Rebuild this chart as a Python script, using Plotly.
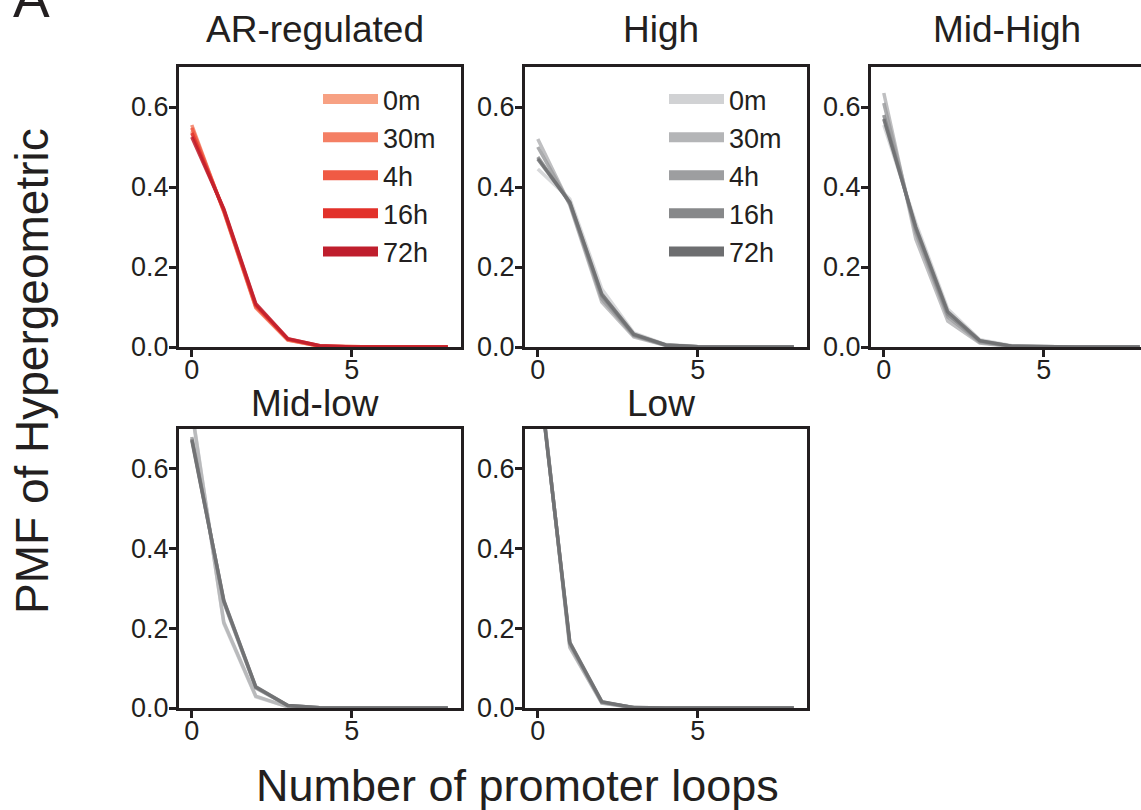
import plotly.graph_objects as go

# ---------------- data ----------------
loops = [0, 1, 2, 3, 4, 5, 6, 7, 8]
timepoints = ["0m", "30m", "4h", "16h", "72h"]
panel_titles = ["AR-regulated", "High", "Mid-High", "Mid-low", "Low"]
x_ticks = [0, 5]
y_ticks = [0.0, 0.2, 0.4, 0.6]

# PMF values per time point (order: 0m, 30m, 4h, 16h, 72h)
ar_regulated = [
    [0.540, 0.342, 0.100, 0.018, 0.002, 0.0002, 0.0, 0.0, 0.0],
    [0.555, 0.338, 0.098, 0.017, 0.002, 0.0002, 0.0, 0.0, 0.0],
    [0.548, 0.340, 0.102, 0.019, 0.002, 0.0002, 0.0, 0.0, 0.0],
    [0.535, 0.343, 0.105, 0.020, 0.003, 0.0003, 0.0, 0.0, 0.0],
    [0.525, 0.345, 0.108, 0.021, 0.003, 0.0003, 0.0, 0.0, 0.0],
]
high = [
    [0.445, 0.370, 0.145, 0.035, 0.006, 0.001, 0.0, 0.0, 0.0],
    [0.520, 0.355, 0.112, 0.025, 0.004, 0.0005, 0.0, 0.0, 0.0],
    [0.500, 0.358, 0.120, 0.028, 0.004, 0.0005, 0.0, 0.0, 0.0],
    [0.475, 0.360, 0.128, 0.030, 0.005, 0.0006, 0.0, 0.0, 0.0],
    [0.470, 0.362, 0.132, 0.032, 0.005, 0.0006, 0.0, 0.0, 0.0],
]
mid_high = [
    [0.555, 0.310, 0.095, 0.018, 0.003, 0.0003, 0.0, 0.0, 0.0],
    [0.635, 0.270, 0.065, 0.010, 0.001, 0.0001, 0.0, 0.0, 0.0],
    [0.610, 0.285, 0.075, 0.012, 0.002, 0.0002, 0.0, 0.0, 0.0],
    [0.580, 0.295, 0.082, 0.015, 0.002, 0.0002, 0.0, 0.0, 0.0],
    [0.570, 0.300, 0.088, 0.016, 0.002, 0.0002, 0.0, 0.0, 0.0],
]
mid_low = [
    [0.750, 0.212, 0.028, 0.003, 0.0003, 0.0, 0.0, 0.0, 0.0],
    [0.745, 0.215, 0.030, 0.003, 0.0003, 0.0, 0.0, 0.0, 0.0],
    [0.680, 0.265, 0.050, 0.006, 0.0005, 0.0, 0.0, 0.0, 0.0],
    [0.675, 0.268, 0.052, 0.006, 0.0005, 0.0, 0.0, 0.0, 0.0],
    [0.672, 0.270, 0.053, 0.006, 0.0005, 0.0, 0.0, 0.0, 0.0],
]
low = [
    [0.870, 0.155, 0.013, 0.001, 0.0, 0.0, 0.0, 0.0, 0.0],
    [0.875, 0.152, 0.012, 0.001, 0.0, 0.0, 0.0, 0.0, 0.0],
    [0.865, 0.160, 0.014, 0.001, 0.0, 0.0, 0.0, 0.0, 0.0],
    [0.862, 0.163, 0.015, 0.001, 0.0, 0.0, 0.0, 0.0, 0.0],
    [0.860, 0.165, 0.016, 0.001, 0.0, 0.0, 0.0, 0.0, 0.0],
]
panels = [ar_regulated, high, mid_high, mid_low, low]

red_colors = ["#F7A183", "#F47F64", "#F05A44", "#E2312A", "#BF1E2D"]
grey_colors = ["#D1D2D4", "#B4B5B7", "#9D9EA0", "#87888A", "#6D6E70"]

# ---------------- layout geometry ----------------
W, H = 1141, 810
col_px = [(179, 461), (525, 807), (871, 1141)]
row_px = [(67, 347), (429, 708)]
title_base_px = [52, 426]
panel_pos = [(0, 0), (0, 1), (0, 2), (1, 0), (1, 1)]
px_per_unit = 32.0

INK = "#231F20"
FONT = "Liberation Sans, Arial, Helvetica, sans-serif"

fig = go.Figure()

for i, (series, (r, c)) in enumerate(zip(panels, panel_pos)):
    ax = "" if i == 0 else str(i + 1)
    colors = red_colors if i == 0 else grey_colors
    for k, tp in enumerate(timepoints):
        fig.add_trace(go.Scatter(
            x=loops, y=series[k], mode="lines",
            line=dict(color=colors[k], width=3.5),
            opacity=0.85, showlegend=False, hoverinfo="skip",
            xaxis="x" + ax, yaxis="y" + ax,
        ))

# legend entries (thick lines)
for k, tp in enumerate(timepoints):
    fig.add_trace(go.Scatter(
        x=[None], y=[None], mode="lines", name=tp,
        line=dict(color=red_colors[k], width=10),
        xaxis="x", yaxis="y", legend="legend",
    ))
for k, tp in enumerate(timepoints):
    fig.add_trace(go.Scatter(
        x=[None], y=[None], mode="lines", name=tp,
        line=dict(color=grey_colors[k], width=10),
        xaxis="x2", yaxis="y2", legend="legend2",
    ))

layout = dict(
    width=W, height=H, autosize=False,
    margin=dict(l=0, r=0, t=0, b=0, pad=0, autoexpand=False),
    paper_bgcolor="white", plot_bgcolor="white",
    font=dict(family=FONT, color=INK, size=27),
    showlegend=True,
)

annotations = []
for i, (r, c) in enumerate(panel_pos):
    ax = "" if i == 0 else str(i + 1)
    x0, x1 = col_px[c]
    y0, y1 = row_px[r]
    xr = [-0.4, -0.4 + (x1 - x0) / px_per_unit]
    layout["xaxis" + ax] = dict(
        domain=[x0 / W, x1 / W], range=xr, anchor="y" + ax,
        tickvals=x_ticks, ticks="outside", ticklen=7, tickwidth=2.5,
        tickcolor=INK, showline=True, linecolor=INK, linewidth=3,
        mirror=True, showgrid=False, zeroline=False, automargin=False,
        ticklabelstandoff=-10,
        tickfont=dict(size=27, color=INK, family=FONT),
    )
    layout["yaxis" + ax] = dict(
        domain=[1 - y1 / H, 1 - y0 / H], range=[0, 0.7], anchor="x" + ax,
        tickvals=y_ticks, tickformat=".1f", ticks="outside", ticklen=7,
        tickwidth=2.5, tickcolor=INK, showline=True, linecolor=INK,
        linewidth=3, mirror=(c != 2), showgrid=False, zeroline=False,
        automargin=False, ticklabelstandoff=-5,
        tickfont=dict(size=27, color=INK, family=FONT),
    )
    full_right = x0 + 8.8 * px_per_unit
    annotations.append(dict(
        text=panel_titles[i], xref="paper", yref="paper",
        x=((x0 + full_right) / 2 - 5) / W, y=1 - title_base_px[r] / H,
        xanchor="center", yanchor="bottom", showarrow=False,
        font=dict(size=37, color=INK, family=FONT),
    ))

annotations += [
    dict(text="PMF of Hypergeometric", xref="paper", yref="paper",
         x=32 / W, y=1 - 371 / H, textangle=-90, showarrow=False,
         xanchor="center", yanchor="middle",
         font=dict(size=46, color=INK, family=FONT)),
    dict(text="Number of promoter loops", xref="paper", yref="paper",
         x=517 / W, y=1 - 785 / H, showarrow=False,
         xanchor="center", yanchor="middle",
         font=dict(size=45, color=INK, family=FONT)),
    dict(text="A", xref="paper", yref="paper",
         x=11 / W, y=1 - 31 / H, showarrow=False,
         xanchor="left", yanchor="bottom",
         font=dict(size=55, color=INK, family=FONT)),
]
layout["annotations"] = annotations

legend_common = dict(
    bgcolor="rgba(0,0,0,0)", borderwidth=0, itemwidth=55,
    font=dict(size=27, color=INK, family=FONT),
    xanchor="left", yanchor="top", tracegroupgap=0,
    itemclick=False, itemdoubleclick=False,
)
layout["legend"] = dict(legend_common, x=318 / W, y=1 - 75 / H)
layout["legend2"] = dict(legend_common, x=664 / W, y=1 - 75 / H)

fig.update_layout(**layout)
fig.write_html("out.html")
